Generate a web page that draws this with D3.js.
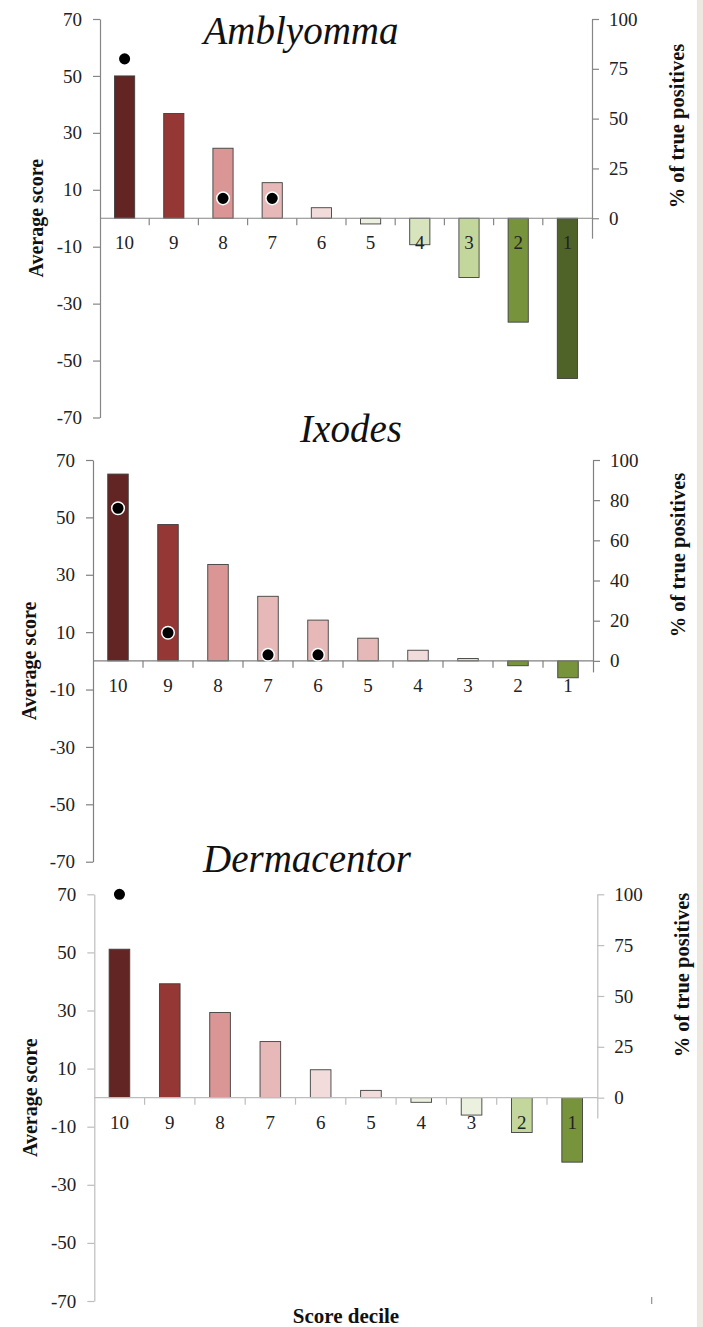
<!DOCTYPE html>
<html>
<head>
<meta charset="utf-8">
<script src="https://cdn.jsdelivr.net/npm/d3@7"></script>
<style>
  body { margin: 0; background: #fff; }
  svg { display: block; }
  text { font-family: "Liberation Serif", "Times New Roman", "DejaVu Serif", serif; }
</style>
</head>
<body>
<svg id="chart" width="703" height="1327"></svg>
<script>
// score deciles, left to right
const deciles = ["10", "9", "8", "7", "6", "5", "4", "3", "2", "1"];

// average score per decile
const amblyommaScores = [50.0, 36.8, 24.6, 12.5, 3.7, -2.0, -9.3, -20.8, -36.5, -56.3];
const ixodesScores = [65.1, 47.5, 33.6, 22.5, 14.2, 7.9, 3.7, 0.8, -1.7, -5.9];
const dermacentorScores = [51.1, 39.2, 29.3, 19.3, 9.6, 2.5, -1.6, -6.0, -12.0, -22.2];

// % of true positives (null = no marker)
const amblyommaTP = [80, null, 10, 10, null, null, null, null, null, null];
const ixodesTP = [76, 14, null, 3, 3, null, null, null, null, null];
const dermacentorTP = [100, null, null, null, null, null, null, null, null, null];

// tick labels
const scoreTicks = [70, 50, 30, 10, -10, -30, -50, -70];
const pctTicks25 = [0, 25, 50, 75, 100];
const pctTicks20 = [0, 20, 40, 60, 80, 100];

// bar colours per panel
const amblyommaColors = ["#632523", "#953735", "#d99694", "#e6b9b8", "#f2dcdb", "#ebf1de", "#d7e4bd", "#c3d69b", "#77933c", "#4f6228"];
const ixodesColors = ["#632523", "#953735", "#d99694", "#e6b9b8", "#e6b9b8", "#e6b9b8", "#f2dcdb", "#f2dcdb", "#77933c", "#77933c"];
const dermacentorColors = ["#632523", "#953735", "#d99694", "#e6b9b8", "#f2dcdb", "#f2dcdb", "#ebf1de", "#ebf1de", "#c3d69b", "#77933c"];

const panels = [
  { name: "Amblyomma", scores: amblyommaScores, tp: amblyommaTP, colors: amblyommaColors, pctTicks: pctTicks25, pctMin: -10,
    left: 100, right: 592, top: 19, bottom: 417.5, axisColor: "#868686", titleX: 301, titleY: 44, pctLabelY: 126 },
  { name: "Ixodes", scores: ixodesScores, tp: ixodesTP, colors: ixodesColors, pctTicks: pctTicks20, pctMin: -5.5,
    left: 93, right: 593, top: 460, bottom: 861.7, axisColor: "#808080", titleX: 351, titleY: 442, pctLabelY: 555 },
  { name: "Dermacentor", scores: dermacentorScores, tp: dermacentorTP, colors: dermacentorColors, pctTicks: pctTicks25, pctMin: -10,
    left: 94.3, right: 597.3, top: 894.3, bottom: 1301, axisColor: "#bdbdbd", titleX: 307, titleY: 872, pctLabelY: 975 }
];

const fontStack = "'Liberation Serif', 'Times New Roman', 'DejaVu Serif', serif";
const svg = d3.select("#chart");

// beige strip on the right edge
svg.append("rect").attr("x", 697).attr("y", 0).attr("width", 6).attr("height", 1327).attr("fill", "#ece8df");

panels.forEach(p => {
  const g = svg.append("g");

  const x = d3.scaleBand().domain(deciles).range([p.left, p.right]).paddingInner(0.59).paddingOuter(0.295);
  const y = d3.scaleLinear().domain([-70, 70]).range([p.bottom, p.top]);
  const y0 = y(0);
  const yPct = d3.scaleLinear().domain([0, 100]).range([y0, p.top]);
  const yPctExt = d3.scaleLinear().domain([p.pctMin, 100]).range([yPct(p.pctMin), p.top]);

  // bars
  g.selectAll("rect.bar")
    .data(deciles.map((d, i) => ({ d, v: p.scores[i], c: p.colors[i] })))
    .enter()
    .append("rect")
    .attr("class", "bar")
    .attr("x", d => x(d.d))
    .attr("width", x.bandwidth())
    .attr("y", d => Math.min(y(d.v), y0))
    .attr("height", d => Math.abs(y(d.v) - y0))
    .attr("fill", d => d.c)
    .attr("stroke", "#3f3f3f")
    .attr("stroke-width", 0.9);

  // left axis
  const leftAxis = g.append("g")
    .attr("transform", `translate(${p.left},0)`)
    .call(d3.axisLeft(y).tickValues(scoreTicks).tickFormat(d => String(d))
      .tickSize(7).tickSizeOuter(0).tickPadding(11));

  // right axis
  const rightAxis = g.append("g")
    .attr("transform", `translate(${p.right},0)`)
    .call(d3.axisRight(yPctExt).tickValues(p.pctTicks).tickFormat(d => String(d))
      .tickSize(7).tickSizeOuter(0).tickPadding(10));

  // category axis along zero
  const step = x.step();
  const catAxis = g.append("g").attr("transform", `translate(0,${y0})`);
  catAxis.append("line")
    .attr("x1", p.left).attr("x2", p.right)
    .attr("stroke", p.axisColor).attr("stroke-width", 1.2);
  catAxis.selectAll("line.tick")
    .data(deciles.slice(0, 9))
    .enter()
    .append("line")
    .attr("class", "tick")
    .attr("x1", d => x(d) + x.bandwidth() / 2 + step / 2)
    .attr("x2", d => x(d) + x.bandwidth() / 2 + step / 2)
    .attr("y1", 0).attr("y2", 7)
    .attr("stroke", p.axisColor).attr("stroke-width", 1.2);
  catAxis.selectAll("text")
    .data(deciles)
    .enter()
    .append("text")
    .attr("x", d => x(d) + x.bandwidth() / 2)
    .attr("y", 31)
    .attr("text-anchor", "middle")
    .attr("font-size", 19)
    .attr("fill", "#222")
    .text(d => d);

  [leftAxis, rightAxis].forEach(a => {
    a.attr("font-family", fontStack);
    a.select(".domain").attr("stroke", p.axisColor).attr("stroke-width", 1.2);
    a.selectAll(".tick line").attr("stroke", p.axisColor).attr("stroke-width", 1.2);
    a.selectAll(".tick text")
      .attr("font-size", 19)
      .attr("fill", "#222");
  });

  // true positive markers
  g.selectAll("circle")
    .data(deciles.map((d, i) => ({ d, v: p.tp[i] })).filter(d => d.v != null))
    .enter()
    .append("circle")
    .attr("cx", d => x(d.d) + x.bandwidth() / 2)
    .attr("cy", d => yPct(d.v))
    .attr("r", 6.3)
    .attr("fill", "#000")
    .attr("stroke", "#fff")
    .attr("stroke-width", 1.5);

  // panel title
  g.append("text")
    .attr("x", p.titleX)
    .attr("y", p.titleY)
    .attr("text-anchor", "middle")
    .attr("font-size", 39)
    .attr("font-style", "italic")
    .attr("fill", "#111")
    .text(p.name);

  // axis titles
  g.append("text")
    .attr("transform", `translate(${p.left - 57},${y0}) rotate(-90)`)
    .attr("text-anchor", "middle")
    .attr("font-size", 20)
    .attr("font-weight", "bold")
    .attr("fill", "#111")
    .text("Average score");

  g.append("text")
    .attr("transform", `translate(${p.right + 92},${p.pctLabelY}) rotate(-90)`)
    .attr("text-anchor", "middle")
    .attr("font-size", 20.5)
    .attr("font-weight", "bold")
    .attr("fill", "#111")
    .text("% of true positives");
});

svg.append("text")
  .attr("x", 346)
  .attr("y", 1323)
  .attr("text-anchor", "middle")
  .attr("font-size", 21)
  .attr("font-weight", "bold")
  .attr("fill", "#111")
  .text("Score decile");

// small stray mark near the bottom right
svg.append("rect").attr("x", 651).attr("y", 1297).attr("width", 1.3).attr("height", 7).attr("fill", "#999");
</script>
</body>
</html>
